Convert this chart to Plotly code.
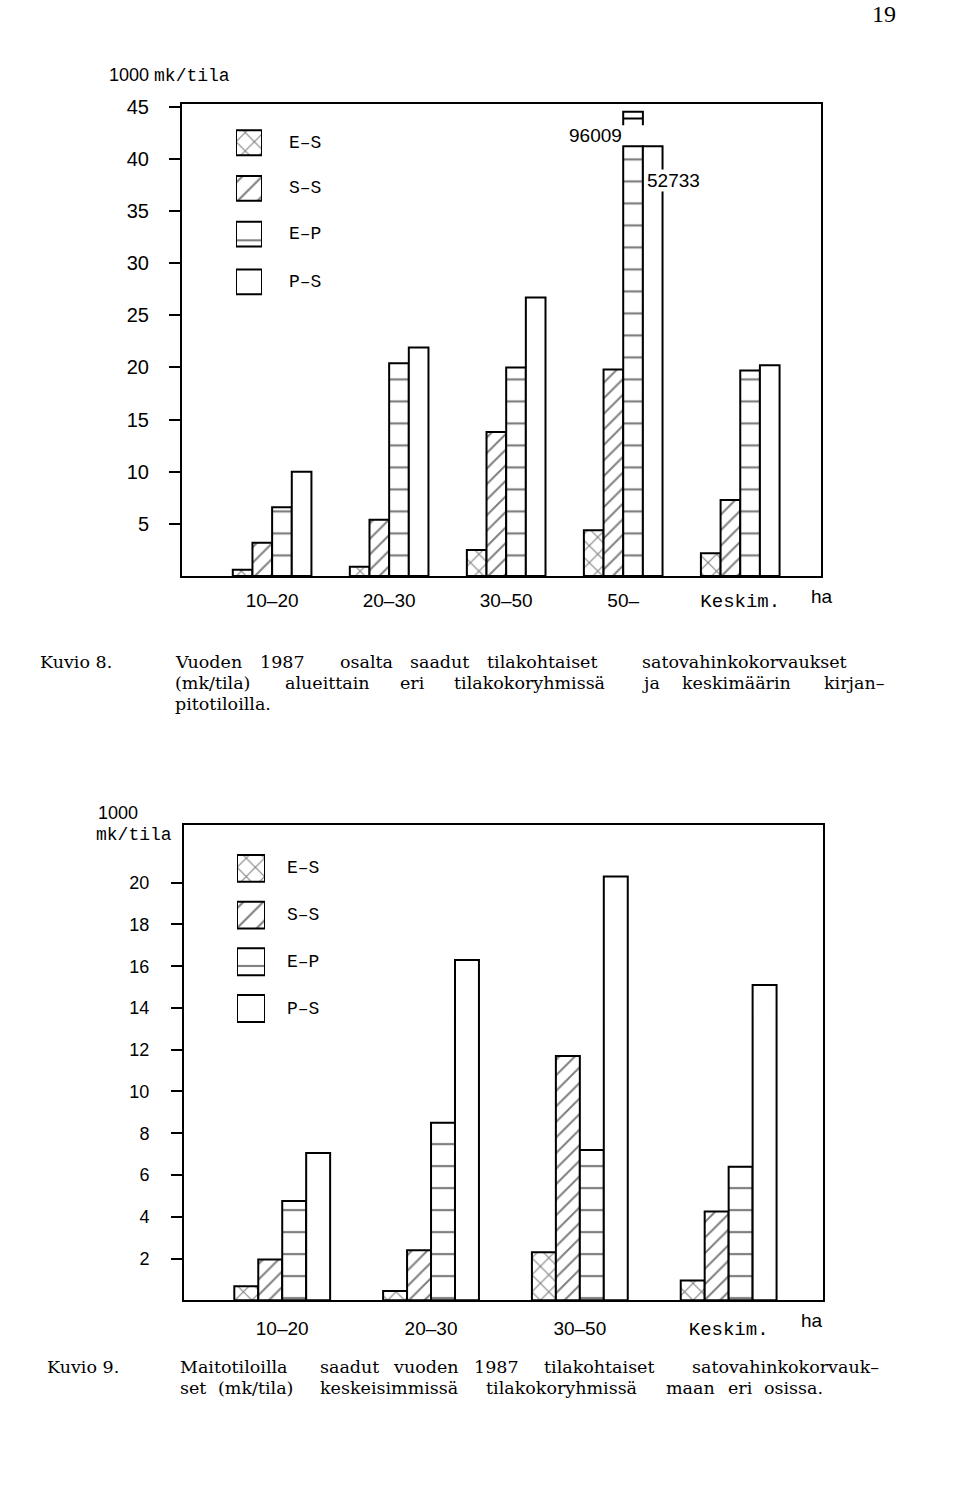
import plotly.graph_objects as go

W, H = 960, 1511

# ---------------- data ----------------
series = ["E–S", "S–S", "E–P", "P–S"]

# Kuvio 8 (1000 mk/tila)
k8_groups = ["10–20", "20–30", "30–50", "50–", "Keskim."]
k8_es = [0.6, 0.9, 2.5, 4.4, 2.2]
k8_ss = [3.2, 5.4, 13.8, 19.8, 7.3]
k8_ep = [6.6, 20.4, 20.0, 96.009, 19.7]
k8_ps = [10.0, 21.9, 26.7, 52.733, 20.2]
k8_yticks = [5, 10, 15, 20, 25, 30, 35, 40, 45]

# Kuvio 9 (1000 mk/tila)
k9_groups = ["10–20", "20–30", "30–50", "Keskim."]
k9_es = [0.67, 0.44, 2.3, 0.95]
k9_ss = [1.95, 2.4, 11.7, 4.25]
k9_ep = [4.75, 8.5, 7.2, 6.4]
k9_ps = [7.05, 16.3, 20.3, 15.1]
k9_yticks = [2, 4, 6, 8, 10, 12, 14, 16, 18, 20]

# ---------------- styles ----------------
patterns = ["x", "/", "-", ""]
psizes = [12, 11, 22, 20]
psolid = [0.17, 0.18, 0.1, 0.1]
leg_sizes = [13, 14, 26, 20]
leg_solid = [0.16, 0.15, 0.08, 0.1]
BREAK1 = 41.2            # axis break level in Kuvio 8
SANS = "Liberation Sans, Arial, sans-serif"
MONO = "Liberation Mono, Courier New, monospace"
SERIF = "Liberation Serif, Times New Roman, serif"
CAPSERIF = "DejaVu Serif, Liberation Serif, serif"


def px_x(p):
    return p / W


def px_y(p):
    return 1 - p / H


fig = go.Figure()


def add_group_bars(vals_list, xaxis, yaxis, width, cap=None):
    n = len(vals_list[0])
    xs = list(range(n))
    for k, vals in enumerate(vals_list):
        shown = [min(v, cap) if cap is not None else v for v in vals]
        fig.add_trace(go.Bar(
            x=xs, y=shown, width=[width] * n, offset=(k - 2) * width,
            xaxis=xaxis, yaxis=yaxis, showlegend=False,
            marker=dict(color="white", line=dict(color="black", width=2),
                        pattern=dict(shape=patterns[k], fgcolor="black", bgcolor="white",
                                     size=psizes[k], solidity=psolid[k])),
            hoverinfo="skip"))


W1 = 0.168
W2 = 0.161
add_group_bars([k8_es, k8_ss, k8_ep, k8_ps], "x", "y", W1, cap=BREAK1)
add_group_bars([k9_es, k9_ss, k9_ep, k9_ps], "x2", "y2", W2)

# plot-area geometry (pixels)
C1_TOP, C1_BOT = 96, 570.5
C2_TOP, C2_BOT = 821, 1299
C1_MAX = 45.2
C2_MAX = 22.76


# legend boxes on their own small axes
def add_legend(xa, ya, tops, hbox):
    for k, t in enumerate(tops):
        fig.add_trace(go.Bar(
            x=[0.5], y=[hbox], base=[t], width=[1], xaxis=xa, yaxis=ya, showlegend=False,
            marker=dict(color="white", line=dict(color="black", width=2),
                        pattern=dict(shape=patterns[k], fgcolor="black", bgcolor="white",
                                     size=leg_sizes[k], solidity=leg_solid[k])),
            hoverinfo="skip"))


leg1_tops = [122, 168, 214, 262]
leg2_tops = [851, 898, 945, 992]
add_legend("x3", "y3", leg1_tops, 25)
add_legend("x4", "y4", leg2_tops, 27)

axis_common = dict(showline=True, linecolor="black", linewidth=2, mirror=True,
                   showgrid=False, zeroline=False, fixedrange=True)


def tt(groups):
    return [g if g != "Keskim." else f"<span style='font-family:{MONO}'>{g}</span>" for g in groups]


fig.update_layout(
    width=W, height=H, margin=dict(l=0, r=0, t=0, b=0),
    paper_bgcolor="white", plot_bgcolor="white", barmode="overlay",
    showlegend=False,
    xaxis=dict(domain=[px_x(182), px_x(821)], range=[-0.77, 4.69], anchor="y",
               tickvals=list(range(len(k8_groups))), ticktext=tt(k8_groups),
               ticks="", ticklabelstandoff=6,
               tickfont=dict(family=SANS, size=19, color="black"), **axis_common),
    yaxis=dict(domain=[px_y(C1_BOT), px_y(C1_TOP)], range=[0, C1_MAX], anchor="x",
               tickvals=k8_yticks, ticks="outside", ticklen=11, tickwidth=2, tickcolor="black",
               ticklabelstandoff=16,
               tickfont=dict(family=SANS, size=20, color="black"), **axis_common),
    xaxis2=dict(domain=[px_x(184), px_x(823)], range=[-0.66, 3.634], anchor="y2",
                tickvals=list(range(len(k9_groups))), ticktext=tt(k9_groups),
                ticks="", ticklabelstandoff=10,
                tickfont=dict(family=SANS, size=19, color="black"), **axis_common),
    yaxis2=dict(domain=[px_y(C2_BOT), px_y(C2_TOP)], range=[0, C2_MAX], anchor="x2",
                tickvals=k9_yticks, ticks="outside", ticklen=11, tickwidth=2, tickcolor="black",
                ticklabelstandoff=18,
                tickfont=dict(family=SANS, size=18, color="black"), **axis_common),
    xaxis3=dict(domain=[px_x(236), px_x(262)], range=[0, 1], anchor="y3", visible=False),
    yaxis3=dict(domain=[px_y(300), px_y(115)], range=[300, 115], anchor="x3", visible=False),
    xaxis4=dict(domain=[px_x(237), px_x(265)], range=[0, 1], anchor="y4", visible=False),
    yaxis4=dict(domain=[px_y(1028), px_y(845)], range=[1028, 845], anchor="x4", visible=False),
)

ann = []
# legend labels
for k, t in enumerate(leg1_tops):
    ann.append(dict(x=px_x(287), y=px_y(t + 12.5), xref="paper", yref="paper", text=series[k],
                    xanchor="left", yanchor="middle", showarrow=False,
                    font=dict(family=MONO, size=18, color="black")))
for k, t in enumerate(leg2_tops):
    ann.append(dict(x=px_x(285), y=px_y(t + 13.5), xref="paper", yref="paper", text=series[k],
                    xanchor="left", yanchor="middle", showarrow=False,
                    font=dict(family=MONO, size=18, color="black")))

# y-axis unit labels
ann.append(dict(x=px_x(107), y=px_y(67), xref="paper", yref="paper",
                text=f"1000 <span style='font-family:{MONO}'>mk/tila</span>",
                xanchor="left", yanchor="middle", showarrow=False,
                font=dict(family=SANS, size=18, color="black")))
ann.append(dict(x=px_x(96), y=px_y(809), xref="paper", yref="paper", text="1000",
                xanchor="left", yanchor="middle", showarrow=False,
                font=dict(family=SANS, size=18, color="black")))
ann.append(dict(x=px_x(94), y=px_y(831), xref="paper", yref="paper", text="mk/tila",
                xanchor="left", yanchor="middle", showarrow=False,
                font=dict(family=MONO, size=18, color="black")))
# "ha" unit labels
ann.append(dict(x=px_x(822), y=px_y(591), xref="paper", yref="paper", text="ha",
                xanchor="center", yanchor="middle", showarrow=False,
                font=dict(family=SANS, size=19, color="black")))
ann.append(dict(x=px_x(812), y=px_y(1319), xref="paper", yref="paper", text="ha",
                xanchor="center", yanchor="middle", showarrow=False,
                font=dict(family=SANS, size=19, color="black")))

# broken-bar value labels (Kuvio 8, group 50–)
scale1 = (C1_BOT - C1_TOP) / C1_MAX
gi = k8_groups.index("50–")
ann.append(dict(x=gi + 0 * W1 + 0.01, y=(C1_BOT - 127) / scale1, xref="x", yref="y",
                text=f"{k8_ep[gi] * 1000:.0f}", xanchor="right", yanchor="middle",
                showarrow=False, font=dict(family=SANS, size=19, color="black")))
ann.append(dict(x=gi + 1 * W1 + 0.03, y=(C1_BOT - 173) / scale1, xref="x", yref="y",
                text=f"{k8_ps[gi] * 1000:.0f}", xanchor="left", yanchor="middle",
                bgcolor="white", borderpad=0,
                showarrow=False, font=dict(family=SANS, size=19, color="black")))

# page number
ann.append(dict(x=px_x(884), y=px_y(5), xref="paper", yref="paper", text="19",
                xanchor="center", yanchor="middle", showarrow=False,
                font=dict(family=SERIF, size=24, color="black")))

# captions (word positions follow the justified print)
cap_font = dict(family=CAPSERIF, size=17.5, color="black")
L1, L2, L3 = 657, 678, 699
M1, M2 = 1366, 1387
captions = [
    (38, L1, "Kuvio 8."),
    (173, L1, "Vuoden"), (258, L1, "1987"), (338, L1, "osalta"), (408, L1, "saadut"),
    (485, L1, "tilakohtaiset"), (640, L1, "satovahinkokorvaukset"),
    (173, L2, "(mk/tila)"), (283, L2, "alueittain"), (398, L2, "eri"),
    (452, L2, "tilakokoryhmissä"), (640, L2, "ja"), (680, L2, "keskimäärin"),
    (822, L2, "kirjan–"),
    (173, L3, "pitotiloilla."),
    (45, M1, "Kuvio 9."),
    (178, M1, "Maitotiloilla"), (318, M1, "saadut"), (391, M1, "vuoden"),
    (472, M1, "1987"), (542, M1, "tilakohtaiset"), (690, M1, "satovahinkokorvauk–"),
    (178, M2, "set"), (216, M2, "(mk/tila)"), (318, M2, "keskeisimmissä"),
    (484, M2, "tilakokoryhmissä"), (664, M2, "maan"), (726, M2, "eri"),
    (762, M2, "osissa."),
]
for xpx, ypx, t in captions:
    ann.append(dict(x=px_x(xpx), y=px_y(ypx), xref="paper", yref="paper", text=t,
                    xanchor="left", yanchor="middle", showarrow=False, font=cap_font))

fig.update_layout(annotations=ann)

# small cap piece above the broken E–P bar (Kuvio 8, group 50–)
x0 = gi + 0 * W1
x1 = gi + 1 * W1
fig.add_shape(type="path", xref="x", yref="y",
              path=f"M {x0},43.2 L {x0},44.5 L {x1},44.5 L {x1},43.2",
              line=dict(color="black", width=2))
fig.add_shape(type="line", xref="x", yref="y", x0=x0, x1=x1, y0=43.85, y1=43.85,
              line=dict(color="black", width=2))

fig.write_html("out.html")
